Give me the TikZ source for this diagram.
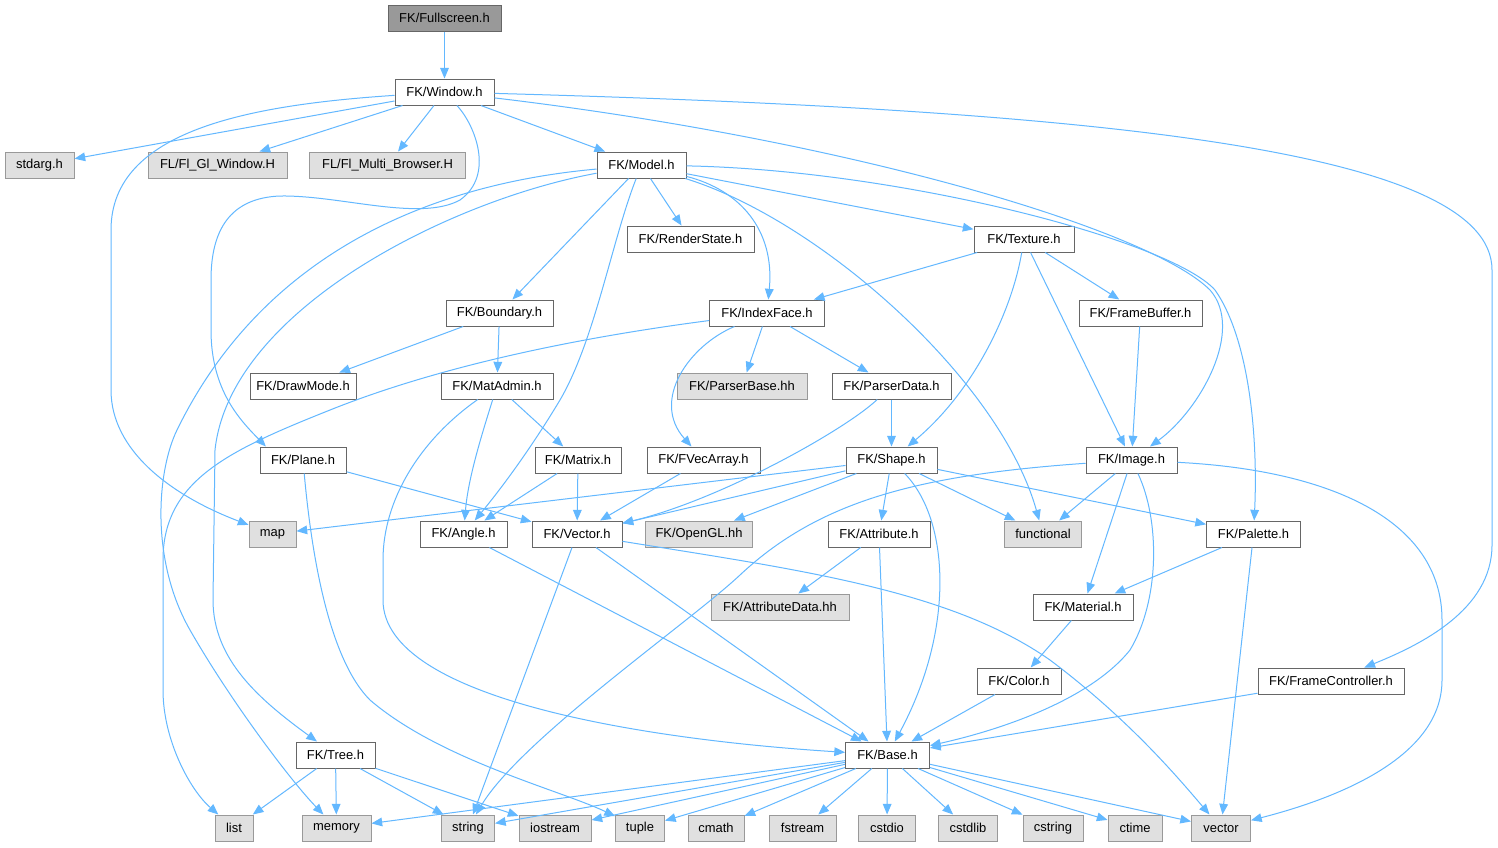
\documentclass[tikz,border=0pt]{standalone}
\usepackage{fontspec}
\setmainfont{Liberation Sans}
\usetikzlibrary{arrows.meta}
\definecolor{edgec}{HTML}{63B8FF}
\definecolor{bdc}{HTML}{666666}
\definecolor{gbdc}{HTML}{999999}
\definecolor{gfillc}{HTML}{E0E0E0}
\definecolor{rootfillc}{HTML}{999999}
\begin{document}
\begin{tikzpicture}[x=0.75pt,y=-0.75pt,
 box/.style={draw=bdc, fill=white, line width=0.75pt, minimum height=19.5pt, inner sep=0pt, font=\fontsize{9.7}{11}\selectfont},
 sys/.style={box, draw=gbdc, fill=gfillc},
 root/.style={box, fill=rootfillc},
 bw/.style={minimum width=#1*0.75pt},
 dep/.style={draw=edgec, line width=0.75pt, -{Triangle[length=8pt,width=6.5pt]}}]
\fill[white] (0,0) rectangle (1498,847);
\useasboundingbox (0,0) rectangle (1498,847);
% nodes
\node[root,bw=113] (fs) at (444.5,18) {FK/Fullscreen.h};
\node[box,bw=99] (win) at (444.5,92) {FK/Window.h};
\node[sys,bw=69] (stdarg) at (39.5,165) {stdarg.h};
\node[sys,bw=139] (glwin) at (217.5,165) {FL/Fl\_Gl\_Window.H};
\node[sys,bw=156] (multi) at (387.5,165) {FL/Fl\_Multi\_Browser.H};
\node[box,bw=89] (model) at (641.5,165) {FK/Model.h};
\node[box,bw=127] (render) at (690.5,239) {FK/RenderState.h};
\node[box,bw=100] (texture) at (1024,239) {FK/Texture.h};
\node[box,bw=107] (boundary) at (499.5,313) {FK/Boundary.h};
\node[box,bw=115] (indexface) at (767,313) {FK/IndexFace.h};
\node[box,bw=123] (framebuf) at (1140.5,313) {FK/FrameBuffer.h};
\node[box,bw=106] (drawmode) at (303,386) {FK/DrawMode.h};
\node[box,bw=112] (matadmin) at (497,386) {FK/MatAdmin.h};
\node[sys,bw=130] (parserbase) at (742,386) {FK/ParserBase.hh};
\node[box,bw=119] (parserdata) at (891.5,386) {FK/ParserData.h};
\node[box,bw=86] (plane) at (303,460) {FK/Plane.h};
\node[box,bw=86] (matrix) at (578,460) {FK/Matrix.h};
\node[box,bw=113] (fvec) at (703.5,460) {FK/FVecArray.h};
\node[box,bw=91] (shape) at (891.5,460) {FK/Shape.h};
\node[box,bw=91] (image) at (1131.5,460) {FK/Image.h};
\node[sys,bw=47] (map) at (272.5,534) {map};
\node[box,bw=87] (angle) at (463.5,534) {FK/Angle.h};
\node[box,bw=90] (vec) at (577,534) {FK/Vector.h};
\node[sys,bw=107] (opengl) at (699,534) {FK/OpenGL.hh};
\node[box,bw=102] (attribute) at (879,534) {FK/Attribute.h};
\node[sys,bw=77] (functional) at (1043,534) {functional};
\node[box,bw=94] (palette) at (1253.5,534) {FK/Palette.h};
\node[sys,bw=138] (attrdata) at (780,607) {FK/AttributeData.hh};
\node[box,bw=100] (material) at (1083,607) {FK/Material.h};
\node[box,bw=84] (color) at (1019,681) {FK/Color.h};
\node[box,bw=146] (framectl) at (1331,681) {FK/FrameController.h};
\node[box,bw=79] (tree) at (335.5,755) {FK/Tree.h};
\node[box,bw=84] (base) at (887.5,755) {FK/Base.h};
\node[sys,bw=38] (list) at (234,828) {list};
\node[sys,bw=69] (memory) at (336.5,828) {memory};
\node[sys,bw=53] (string) at (468,828) {string};
\node[sys,bw=72] (iostream) at (555,828) {iostream};
\node[sys,bw=49] (tuple) at (640,828) {tuple};
\node[sys,bw=56] (cmath) at (716,828) {cmath};
\node[sys,bw=67] (fstream) at (802.5,828) {fstream};
\node[sys,bw=57] (cstdio) at (887,828) {cstdio};
\node[sys,bw=59] (cstdlib) at (968,828) {cstdlib};
\node[sys,bw=60] (cstring) at (1053,828) {cstring};
\node[sys,bw=54] (ctime) at (1135,828) {ctime};
\node[sys,bw=59] (stdvec) at (1221,828) {vector};
% edges
\draw[dep] (fs) -- (win);
\draw[dep] (win) -- (stdarg);
\draw[dep] (win) -- (glwin);
\draw[dep] (win) -- (multi);
\draw[dep] (win) -- (model);
\draw[dep] (win) .. controls (250,105) and (111,130) .. (111,230) -- (111,390) .. controls (111,450) and (170,495) .. (map);
\draw[dep] (win) .. controls (475,125) and (495,175) .. (460,200) .. controls (420,222) and (340,195) .. (280,196) .. controls (230,198) and (211,230) .. (211,280) -- (211,330) .. controls (211,390) and (240,420) .. (plane.160);
\draw[dep] (win) .. controls (850,140) and (1150,230) .. (1210,290) .. controls (1245,330) and (1200,410) .. (image);
\draw[dep] (win) .. controls (1100,110) and (1492,150) .. (1492,270) -- (1492,545) .. controls (1492,610) and (1420,645) .. (framectl);
\draw[dep] (model) -- (render);
\draw[dep] (model) -- (texture);
\draw[dep] (model) -- (boundary);
\draw[dep] (model) .. controls (612,240) and (595,340) .. (560,400) .. controls (530,450) and (500,490) .. (angle);
\draw[dep] (model) .. controls (740,190) and (775,230) .. (indexface);
\draw[dep] (model) .. controls (820,220) and (1000,380) .. (functional);
\draw[dep] (model) .. controls (420,185) and (260,260) .. (177,430) .. controls (157,471) and (150,560) .. (190,630) .. controls (230,700) and (290,780) .. (memory);
\draw[dep] (model) .. controls (450,200) and (230,310) .. (215,450) -- (213,600) .. controls (213,660) and (260,700) .. (tree);
\draw[dep] (model) .. controls (900,170) and (1170,240) .. (1215,290) .. controls (1250,340) and (1258,440) .. (palette);
\draw[dep] (texture) -- (indexface);
\draw[dep] (texture) -- (framebuf);
\draw[dep] (texture) -- (image);
\draw[dep] (texture) .. controls (1012,310) and (975,390) .. (shape);
\draw[dep] (framebuf) -- (image);
\draw[dep] (boundary) -- (drawmode);
\draw[dep] (boundary) -- (matadmin);
\draw[dep] (indexface) .. controls (560,340) and (430,370) .. (330,410) .. controls (230,450) and (163,480) .. (163,560) -- (163,690) .. controls (163,740) and (190,790) .. (list);
\draw[dep] (indexface) .. controls (690,345) and (650,400) .. (fvec);
\draw[dep] (indexface) -- (parserbase);
\draw[dep] (indexface) -- (parserdata);
\draw[dep] (matadmin) .. controls (480,440) and (468,480) .. (angle);
\draw[dep] (matadmin) -- (matrix);
\draw[dep] (matadmin) .. controls (420,440) and (383,500) .. (383,560) -- (383,600) .. controls (383,700) and (650,740) .. (base);
\draw[dep] (parserdata) -- (shape);
\draw[dep] (parserdata) .. controls (845,430) and (720,500) .. (vec);
\draw[dep] (plane) -- (vec);
\draw[dep] (plane) .. controls (312,560) and (330,660) .. (370,700) .. controls (440,760) and (560,790) .. (tuple);
\draw[dep] (matrix) -- (angle);
\draw[dep] (matrix) -- (vec);
\draw[dep] (fvec) -- (vec);
\draw[dep] (shape) -- (map);
\draw[dep] (shape) -- (vec);
\draw[dep] (shape) -- (opengl);
\draw[dep] (shape) -- (attribute);
\draw[dep] (shape) -- (functional);
\draw[dep] (shape) -- (palette);
\draw[dep] (shape) .. controls (950,520) and (955,630) .. (base);
\draw[dep] (image) .. controls (920,475) and (820,500) .. (740,575) .. controls (690,622) and (520,740) .. (string);
\draw[dep] (image) -- (functional);
\draw[dep] (image) -- (material);
\draw[dep] (image) .. controls (1160,520) and (1160,600) .. (1130,650) .. controls (1090,700) and (1000,730) .. (base);
\draw[dep] (image) .. controls (1330,470) and (1442,520) .. (1442,620) -- (1442,680) .. controls (1442,760) and (1330,800) .. (stdvec);
\draw[dep] (palette) -- (material);
\draw[dep] (palette) -- (stdvec);
\draw[dep] (material) -- (color);
\draw[dep] (color) -- (base);
\draw[dep] (framectl) -- (base);
\draw[dep] (attribute) -- (attrdata);
\draw[dep] (attribute) -- (base);
\draw[dep] (angle) -- (base);
\draw[dep] (vec) -- (base);
\draw[dep] (vec) -- (string);
\draw[dep] (vec) .. controls (800,570) and (950,590) .. (1050,660) .. controls (1130,720) and (1180,780) .. (stdvec);
\draw[dep] (tree) -- (list);
\draw[dep] (tree) -- (memory);
\draw[dep] (tree) -- (string);
\draw[dep] (tree) -- (iostream);
\foreach \t in {memory,string,iostream,tuple,cmath,fstream,cstdio,cstdlib,cstring,ctime,stdvec}
  \draw[dep] (base) -- (\t);
\end{tikzpicture}
\end{document}
